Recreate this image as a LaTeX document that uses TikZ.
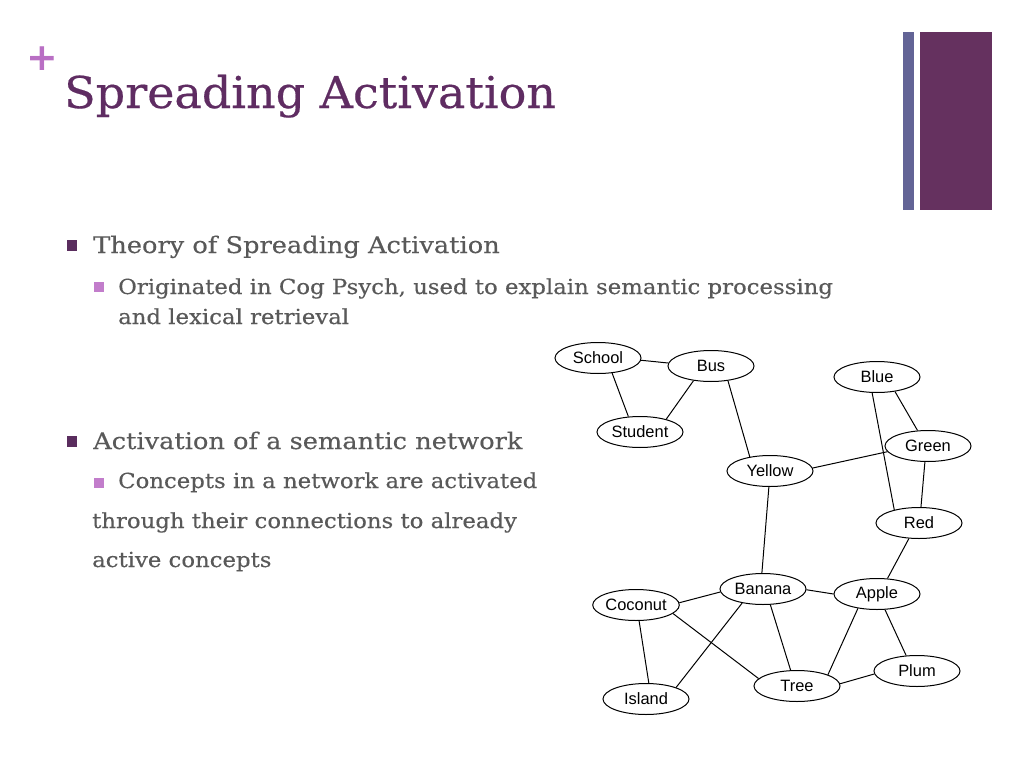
\documentclass[tikz,border=0pt]{standalone}
\usepackage{fontspec}
\setmainfont{DejaVu Serif}
\newfontfamily\titlefont[FakeStretch=1.05,FakeBold=0.4]{DejaVu Serif}
\newfontfamily\bodyfont[FakeStretch=1.12,FakeBold=0.3]{DejaVu Serif}
\newfontfamily\subfont[FakeStretch=1.10,FakeBold=0.3]{DejaVu Serif}
\newfontfamily\plusfont{DejaVu Sans Bold}
\newfontfamily\netfont{Liberation Sans}
\usetikzlibrary{shapes.geometric}
\definecolor{titlepurple}{HTML}{5F2C62}
\definecolor{plusorchid}{HTML}{B96FC4}
\definecolor{barslate}{HTML}{636496}
\definecolor{barplum}{HTML}{65315F}
\definecolor{bodygray}{HTML}{595959}
\definecolor{bulletdark}{HTML}{5A2D5E}
\definecolor{bulletlight}{HTML}{C27DCB}
\begin{document}
\begin{tikzpicture}[x=1bp,y=-1bp,
  concept/.style={ellipse,draw=black,line width=1bp,minimum width=86bp,minimum height=31bp,inner sep=0pt,font=\netfont\fontsize{16.5}{17}\selectfont},
  link/.style={draw=black,line width=1bp},
  lvlone/.style={anchor=base west,inner sep=0pt,text=bodygray,font=\bodyfont\fontsize{23}{26}\selectfont},
  lvltwo/.style={anchor=base west,inner sep=0pt,text=bodygray,font=\subfont\fontsize{20.8}{24}\selectfont},
  bulletone/.style={fill=bulletdark,draw=none},
  bullettwo/.style={fill=bulletlight,draw=none}]
\useasboundingbox[fill=white] (0,0) rectangle (1024,768);
% header
\node[anchor=center,inner sep=0pt,text=plusorchid,font=\plusfont\fontsize{38}{38}\selectfont] (plus) at (42,59) {+};
\node[anchor=base west,inner sep=0pt,text=titlepurple,font=\titlefont\fontsize{44}{46}\selectfont] (title) at (64,108) {Spreading Activation};
\fill[barslate] (903,32) rectangle (914,210);
\fill[barplum] (920,32) rectangle (992,210);
% bullets
\fill[bulletone] (67,240) rectangle (77,251);
\node[lvlone] (b1) at (93,253) {Theory of Spreading Activation};
\fill[bullettwo] (94,282) rectangle (104,292);
\node[lvltwo] (b2) at (118,294) {Originated in Cog Psych, used to explain semantic processing};
\node[lvltwo] (b2b) at (118,324) {and lexical retrieval};
\fill[bulletone] (67,436) rectangle (77,447);
\node[lvlone] (b3) at (93,449) {Activation of a semantic network};
\fill[bullettwo] (94,478) rectangle (104,488);
\node[lvltwo] (b4) at (118,488) {Concepts in a network are activated};
\node[lvltwo] (b4b) at (92,528) {through their connections to already};
\node[lvltwo] (b4c) at (92,567) {active concepts};
% network
\node[concept] (school) at (598,358) {School};
\node[concept] (bus) at (711,366) {Bus};
\node[concept] (student) at (640,432) {Student};
\node[concept] (blue) at (877,377) {Blue};
\node[concept] (green) at (928,446) {Green};
\node[concept] (yellow) at (770,471) {Yellow};
\node[concept] (red) at (919,523) {Red};
\node[concept] (banana) at (763,589) {Banana};
\node[concept] (apple) at (877,594) {Apple};
\node[concept] (coconut) at (636,605) {Coconut};
\node[concept] (island) at (646,699) {Island};
\node[concept] (tree) at (797,686) {Tree};
\node[concept] (plum) at (917,671) {Plum};
\path[link] (school.-3) -- (bus.176);
\path[link] (school.-47) -- (student.127);
\path[link] (bus.220) -- (student.26);
\path[link] (bus.-41) -- (yellow.145);
\path[link] (blue.253) -- (red.152);
\path[link] (blue.-39) -- (green.124);
\path[link] (green.188) -- (yellow.4);
\path[link] (green.259) -- (red.83);
\path[link] (yellow.266) -- (banana.94);
\path[link] (red.237) -- (apple.56);
\path[link] (banana.184) -- (coconut.3);
\path[link] (banana.-1) -- (apple.180);
\path[link] (banana.214) -- (island.21);
\path[link] (banana.-65) -- (tree.112);
\path[link] (coconut.-79) -- (island.80);
\path[link] (coconut.-13) -- (tree.169);
\path[link] (apple.217) -- (tree.20);
\path[link] (apple.-63) -- (plum.125);
\path[link] (tree.3) -- (plum.184);
\end{tikzpicture}
\end{document}
